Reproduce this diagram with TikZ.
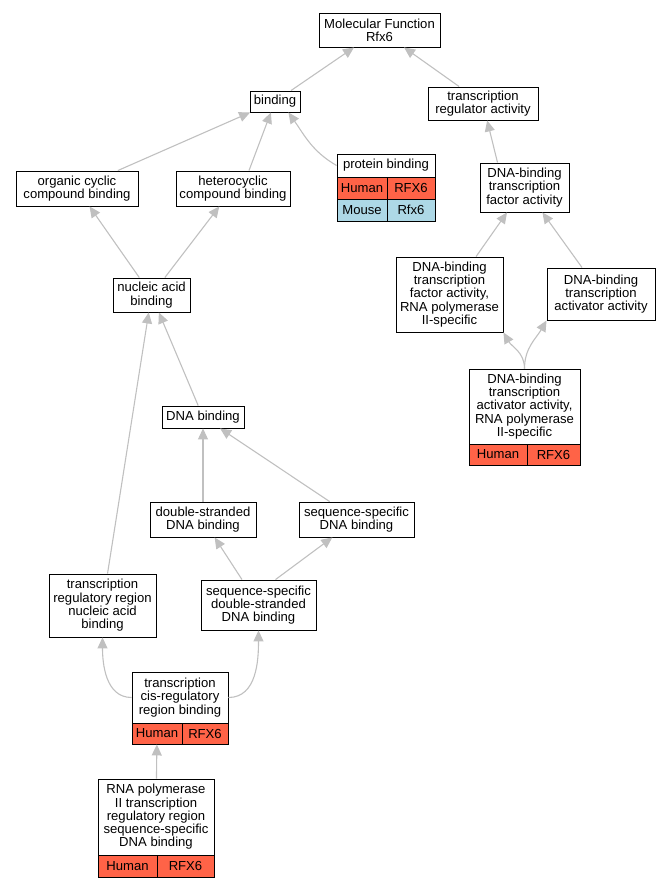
\documentclass[tikz,border=0pt]{standalone}
\usepackage{fontspec}
\setmainfont{Liberation Sans}
\usetikzlibrary{arrows.meta}

\definecolor{humanred}{HTML}{FF6347}
\definecolor{mouseblue}{HTML}{ADD8E6}
\definecolor{edgegray}{HTML}{C0C0C0}

\tikzset{
  term/.style={draw, line width=0.9pt, fill=white, align=center, inner sep=1pt,
    font=\fontsize{13.1}{13.3}\selectfont},
  cell/.style={term, minimum height=21pt},
  human/.style={cell, fill=humanred},
  mouse/.style={cell, fill=mouseblue},
  isa/.style={draw=edgegray, line width=1.1pt, -{Triangle[length=11pt,width=10pt]}}
}

\begin{document}
\begin{tikzpicture}[x=1pt, y=-1pt]
        \useasboundingbox (0,0) rectangle (671,888);
        % terms
        \node[term, minimum width=121pt, minimum height=34pt] (mf) at (379.5,30) {Molecular Function\\Rfx6};
        \node[term, minimum width=50pt, minimum height=21pt] (bd) at (275,101.5) {binding};
        \node[term, minimum width=110pt, minimum height=33pt] (tra) at (483,103.5) {transcription\\regulator activity};
        \node[term, minimum width=122pt, minimum height=35pt] (occ) at (77,188.5) {organic cyclic\\compound binding};
        \node[term, minimum width=114pt, minimum height=35pt] (hcc) at (233,188.5) {heterocyclic\\compound binding};
        \node[term, minimum width=98pt, minimum height=23pt] (pb) at (386,165.5) {protein binding};
        \node[human, minimum width=50pt, minimum height=22pt] (pbh) at (362,188) {Human};
        \node[human, minimum width=48pt, minimum height=22pt] (pbg) at (411,188) {RFX6};
        \node[mouse, minimum width=50pt, minimum height=22pt] (pbm) at (362,210) {Mouse};
        \node[mouse, minimum width=48pt, minimum height=22pt] (pbr) at (411,210) {Rfx6};
        \node[term, minimum width=89pt, minimum height=49pt] (dtf) at (524.5,187.5) {DNA-binding\\transcription\\factor activity};
        \node[term, minimum width=77pt, minimum height=34pt] (nab) at (151.5,295) {nucleic acid\\binding};
        \node[term, minimum width=107pt, minimum height=75pt] (dtf2) at (449.5,294.5) {DNA-binding\\transcription\\factor activity,\\RNA polymerase\\II-specific};
        \node[term, minimum width=108pt, minimum height=52pt] (dta) at (601,294) {DNA-binding\\transcription\\activator activity};
        \node[term, minimum width=111pt, minimum height=75pt] (dta2) at (524.5,406.5) {DNA-binding\\transcription\\activator activity,\\RNA polymerase\\II-specific};
        \node[human, minimum width=58pt] (dta2h) at (498,454.5) {Human};
        \node[human, minimum width=53pt] (dta2g) at (553.5,454.5) {RFX6};
        \node[term, minimum width=82pt, minimum height=22pt] (db) at (203,417) {DNA binding};
        \node[term, minimum width=106pt, minimum height=35pt] (dsb) at (203,519.5) {double-stranded\\DNA binding};
        \node[term, minimum width=115pt, minimum height=35pt] (ssb) at (356.5,519.5) {sequence-specific\\DNA binding};
        \node[term, minimum width=107pt, minimum height=63pt] (trr) at (102.5,605.5) {transcription\\regulatory region\\nucleic acid\\binding};
        \node[term, minimum width=115pt, minimum height=50pt] (ssds) at (258.5,605) {sequence-specific\\double-stranded\\DNA binding};
        \node[term, minimum width=96pt, minimum height=51pt] (cis) at (180,697.5) {transcription\\cis-regulatory\\region binding};
        \node[human, minimum width=50pt] (cish) at (157,733.5) {Human};
        \node[human, minimum width=46pt] (cisg) at (205,733.5) {RFX6};
        \node[term, minimum width=116pt, minimum height=76pt] (rp) at (156,817) {RNA polymerase\\II transcription\\regulatory region\\sequence-specific\\DNA binding};
        \node[human, minimum width=59pt, minimum height=22pt] (rph) at (127.5,866) {Human};
        \node[human, minimum width=57pt, minimum height=22pt] (rpg) at (185.5,866) {RFX6};
        % is_a links
        \draw[isa] (bd) -- (mf);
        \draw[isa] (tra) -- (mf);
        \draw[isa] (occ) -- (bd);
        \draw[isa] ([xshift=16pt]hcc.north) -- (bd);
        \draw[isa] (pb.west) to[out=150,in=-55] ([xshift=-12pt]bd.south east);
        \draw[isa] ([xshift=-27pt]dtf.north) -- (tra);
        \draw[isa] (nab) -- (occ);
        \draw[isa] (nab) -- (hcc);
        \draw[isa] (dtf2) -- (dtf);
        \draw[isa] (dta) -- (dtf);
        \draw[isa] (dta2.north) to[out=90,in=-60] (dtf2.south east);
        \draw[isa] (dta2.north) to[out=90,in=-120] (dta.south west);
        \draw[isa] (db) -- (nab);
        \draw[isa] (trr) -- (nab);
        \draw[isa] (dsb) -- (db);
        \draw[isa] (ssb) -- (db);
        \draw[isa] (ssds) -- (dsb);
        \draw[isa] ([xshift=17pt]ssds.north) -- (ssb);
        \draw[isa] (cis.west) to[out=180,in=-90] (trr.south);
        \draw[isa] (cis.east) to[out=0,in=-90] (ssds.south);
        \draw[isa] (rp) -- (cish);
    \end{tikzpicture}
\end{document}
